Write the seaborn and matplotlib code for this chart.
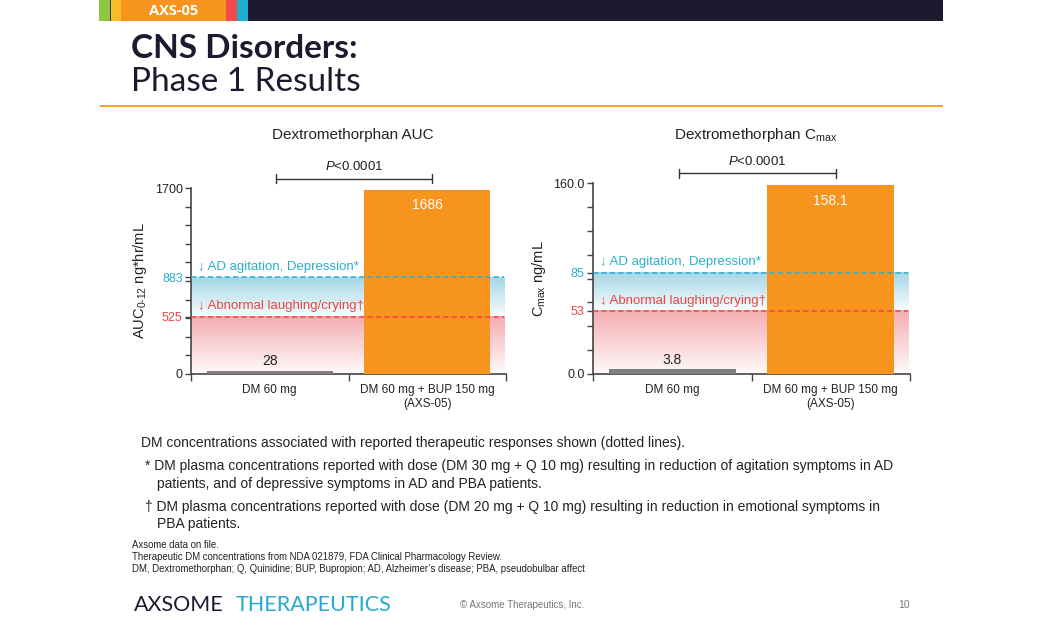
import numpy as np
import pandas as pd
import matplotlib
matplotlib.use("Agg")
import matplotlib.pyplot as plt
import seaborn as sns
from matplotlib.patches import Rectangle
from matplotlib.ticker import FixedLocator

# ---------------- data ----------------
categories = ["DM 60 mg", "DM 60 mg + BUP 150 mg\n(AXS-05)"]
auc_values = [28, 1686]
cmax_values = [3.8, 158.1]
auc_labels = ["28", "1686"]
cmax_labels = ["3.8", "158.1"]
auc_thresholds = [883, 525]
cmax_thresholds = [85, 53]
auc_ticks = [0, 525, 883, 1700]
auc_ticklabels = ["0", "525", "883", "1700"]
cmax_ticks = [0, 53, 85, 160]
cmax_ticklabels = ["0.0", "53", "85", "160.0"]
threshold_names = ["\u2193 AD agitation, Depression*", "\u2193 Abnormal laughing/crying\u2020"]
p_text = "$\\mathit{P}$<0.0001"

sns.set_theme(style="white")
plt.rcParams["font.family"] = ["Liberation Sans", "DejaVu Sans"]
plt.rcParams["mathtext.fontset"] = "custom"
plt.rcParams["mathtext.rm"] = "Liberation Sans"
plt.rcParams["mathtext.it"] = "Liberation Sans:italic"
plt.rcParams["mathtext.default"] = "regular"

W, H = 1042, 635
fig = plt.figure(figsize=(W / 100, H / 100), dpi=100)
fig.patch.set_facecolor("white")

def fx(px):
    return px / W

def fy(py):
    return 1 - py / H

DARK = "#222222"
ORANGE = "#F7941D"
GRAY = "#7F7F7F"
CYAN = "#2AAFCB"
RED = "#EE4446"
TEAL = "#29A9CF"
NAVY = "#1C1A2E"

# ---------------- header ----------------
for x0, x1, c in [(99, 110, "#8DC63F"), (110, 111, "#3a3a3a"), (111, 121, "#F7BE2A"),
                  (121, 226, ORANGE), (226, 237, "#EF4B4F"), (237, 248, "#21AFCF"),
                  (248, 943, NAVY)]:
    fig.add_artist(Rectangle((fx(x0), fy(21)), fx(x1) - fx(x0), 21 / H,
                             transform=fig.transFigure, color=c, lw=0))
fig.text(fx(174), fy(11), "AXS-05", color="white", fontsize=10.5, fontweight="bold",
         family=["Open Sans", "DejaVu Sans"], ha="center", va="center")
fig.text(fx(131), fy(49), "CNS Disorders:", color=NAVY, fontsize=24, fontweight="bold",
         family=["Lato", "DejaVu Sans"], ha="left", va="center")
fig.text(fx(131), fy(82), "Phase 1 Results", color=NAVY, fontsize=24, fontweight="normal",
         family=["Lato", "DejaVu Sans"], ha="left", va="center")
fig.add_artist(Rectangle((fx(100), fy(107)), fx(943) - fx(100), 2 / H,
                         transform=fig.transFigure, color="#F5A623", lw=0))


def panel(rect, values, labels, thresholds, ticks, ticklabels, ymax, minor_step,
          title, ylabel, title_x):
    ax = fig.add_axes(rect)
    df = pd.DataFrame({"cat": categories, "val": values})
    sns.barplot(data=df, x="cat", y="val", hue="cat", palette=[GRAY, ORANGE],
                width=0.8, legend=False, ax=ax, zorder=3, saturation=1, linewidth=0)
    ax.set_xlim(-0.5, 1.5)
    ax.set_ylim(0, ymax)
    xr = 1.49
    # gradient bands
    top, mid = thresholds
    grad = np.linspace(0, 1, 256)[:, None]
    blue = np.zeros((256, 1, 4))
    blue[..., 0], blue[..., 1], blue[..., 2] = 0.52, 0.79, 0.87
    blue[..., 3] = 0.05 + 0.70 * grad
    ax.imshow(blue, extent=(-0.5, xr, mid, top), origin="lower", aspect="auto", zorder=1,
              interpolation="bilinear")
    pink = np.zeros((256, 1, 4))
    pink[..., 0], pink[..., 1], pink[..., 2] = 0.94, 0.50, 0.52
    pink[..., 3] = 0.03 + 0.62 * grad
    ax.imshow(pink, extent=(-0.5, xr, 0, mid), origin="lower", aspect="auto", zorder=1,
              interpolation="bilinear")
    ax.set_xlim(-0.5, 1.5)
    ax.set_ylim(0, ymax)
    for val, col, name in zip(thresholds, [CYAN, RED], threshold_names):
        ax.plot([-0.5, xr], [val, val], color=col, lw=1.1, ls=(0, (3.5, 2)), zorder=4)
        ax.annotate(name, xy=(-0.5, val), xytext=(5, 3), textcoords="offset points",
                    color=col, fontsize=9.5, ha="left", va="bottom", zorder=5)
    # bar value labels
    ax.annotate(labels[0], xy=(0, values[0]), xytext=(0, 2), textcoords="offset points",
                ha="center", va="bottom", fontsize=10, color=DARK, zorder=5)
    ax.annotate(labels[1], xy=(1, values[1]), xytext=(0, -6), textcoords="offset points",
                ha="center", va="top", fontsize=10, color="white", zorder=5)
    # spines/ticks
    for s in ["top", "right"]:
        ax.spines[s].set_visible(False)
    for s in ["left", "bottom"]:
        ax.spines[s].set_color("#444444")
        ax.spines[s].set_linewidth(1.2)
    ax.set_yticks(ticks)
    ax.set_yticklabels(ticklabels)
    for t, c in zip(ax.get_yticklabels(), [DARK, RED, CYAN, DARK]):
        t.set_color(c)
    ax.yaxis.set_minor_locator(FixedLocator(np.arange(minor_step, ymax, minor_step)))
    ax.tick_params(axis="y", which="both", direction="out", left=True, length=4,
                   width=1, color="#444444", labelsize=9, pad=2)
    ax.set_xticks([-0.5, 0.5, 1.5])
    ax.set_xticklabels(["", "", ""])
    ax.set_xticks([0, 1], minor=True)
    ax.set_xticklabels(categories, minor=True)
    ax.tick_params(axis="x", which="major", direction="out", bottom=True, length=5,
                   width=1, color="#444444")
    ax.tick_params(axis="x", which="minor", bottom=True, length=0, labelsize=8.5,
                   labelcolor=DARK, pad=7)
    ax.set_xlabel("")
    ax.set_ylabel(ylabel, fontsize=10.5, color=DARK, labelpad=4)
    ax.grid(False)
    ax.set_facecolor("none")
    # p-value bracket
    yb = 1.05
    ax.plot([0.04, 1.03], [yb, yb], transform=ax.get_xaxis_transform(), color="#333333",
            lw=1, clip_on=False)
    for xb in [0.04, 1.03]:
        ax.plot([xb, xb], [yb - 0.025, yb + 0.025], transform=ax.get_xaxis_transform(),
                color="#333333", lw=1, clip_on=False)
    ax.text(0.535, yb + 0.03, p_text, transform=ax.get_xaxis_transform(), ha="center",
            va="bottom", fontsize=9.5, color=DARK)
    fig.text(fx(title_x), fy(135), title, ha="center", va="center", fontsize=11, color=DARK)
    return ax


panel([fx(191), fy(374), fx(506) - fx(191), 186 / H], auc_values, auc_labels,
      auc_thresholds, auc_ticks, auc_ticklabels, 1700, 170,
      "Dextromethorphan AUC", "AUC$_{0\u201012}$ ng*hr/mL", 353)
panel([fx(593), fy(374), fx(910) - fx(593), 191 / H], cmax_values, cmax_labels,
      cmax_thresholds, cmax_ticks, cmax_ticklabels, 160, 20,
      "Dextromethorphan C$_{max}$", "C$_{max}$ ng/mL", 756)

# ---------------- footnotes ----------------
fs = 10
fig.text(fx(141), fy(443), "DM concentrations associated with reported therapeutic responses shown (dotted lines).",
         fontsize=fs, color=DARK, va="center")
fig.text(fx(145), fy(466), "* DM plasma concentrations reported with dose (DM 30 mg + Q 10 mg) resulting in reduction of agitation symptoms in AD",
         fontsize=fs, color=DARK, va="center")
fig.text(fx(157), fy(484), "patients, and of depressive symptoms in AD and PBA patients.",
         fontsize=fs, color=DARK, va="center")
fig.text(fx(145), fy(507), "\u2020 DM plasma concentrations reported with dose (DM 20 mg + Q 10 mg) resulting in reduction in emotional symptoms in",
         fontsize=fs, color=DARK, va="center")
fig.text(fx(157), fy(524), "PBA patients.", fontsize=fs, color=DARK, va="center")
sfs = 6.9
fig.text(fx(132), fy(545), "Axsome data on file.", fontsize=sfs, color=DARK, va="center")
fig.text(fx(132), fy(557), "Therapeutic DM concentrations from NDA 021879, FDA Clinical Pharmacology Review.",
         fontsize=sfs, color=DARK, va="center")
fig.text(fx(132), fy(569), "DM, Dextromethorphan; Q, Quinidine; BUP, Bupropion; AD, Alzheimer\u2019s disease; PBA, pseudobulbar affect",
         fontsize=sfs, color=DARK, va="center")

# ---------------- footer ----------------
fig.text(fx(134), fy(605), "AXSOME", fontsize=15.5, color=NAVY, fontweight="normal",
         family=["Lato", "DejaVu Sans"], va="center", ha="left")
fig.text(fx(236), fy(605), "THERAPEUTICS", fontsize=15.5, color=TEAL, fontweight="normal",
         family=["Lato", "DejaVu Sans"], va="center", ha="left")
fig.text(fx(522), fy(605), "\u00a9 Axsome Therapeutics, Inc.", fontsize=7, color="#777777",
         va="center", ha="center")
fig.text(fx(910), fy(605), "10", fontsize=7.5, color="#777777", va="center", ha="right")

fig.savefig("out.png", dpi=100, facecolor="white")
